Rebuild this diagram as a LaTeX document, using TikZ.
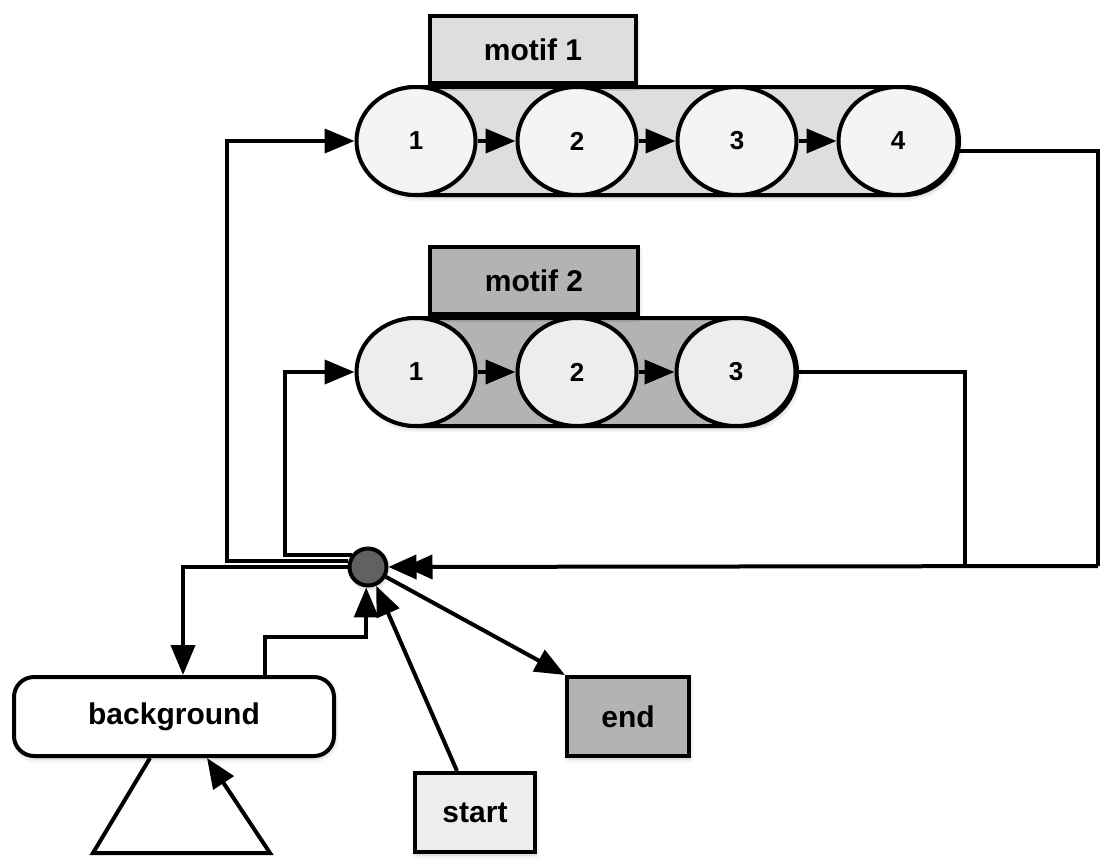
\documentclass[tikz,border=0pt]{standalone}
\usepackage{fontspec}
\setmainfont{Liberation Sans}
\usetikzlibrary{arrows.meta,shapes.geometric,calc,shadows.blur}
\definecolor{paleA}{HTML}{F4F4F4}
\definecolor{paleB}{HTML}{EDEDED}
\definecolor{grayA}{HTML}{DEDEDE}
\definecolor{grayB}{HTML}{B3B3B3}
\definecolor{hubgray}{HTML}{616161}
\tikzset{
  soft/.style={blur shadow={shadow xshift=1pt, shadow yshift=-3pt, shadow blur radius=4pt, shadow opacity=22}},
  base/.style={draw=black, line width=4pt, font=\fontsize{30}{34}\selectfont\bfseries, inner sep=0pt},
  labelbox/.style={base, soft, rectangle, minimum width=206pt, minimum height=67pt},
  capsule/.style={base, soft, rectangle, rounded corners=54pt, minimum height=108pt},
  state/.style={base, ellipse, fill=paleA, minimum width=119pt, minimum height=108pt, font=\fontsize{26}{30}\selectfont\bfseries},
  termbox/.style={base, soft, rectangle, minimum height=79pt},
  conn/.style={line width=4pt, draw=black},
  arr/.style={conn, -{Triangle[length=30pt,width=24pt]}},
  dblarr/.style={conn, -{Triangle[length=28pt,width=24pt,sep=-12pt]Triangle[length=28pt,width=24pt]}},
}
\begin{document}
\begin{tikzpicture}[x=1pt,y=-1pt]
\useasboundingbox (0,0) rectangle (1101,860);

% motif 1
\node[capsule, fill=grayA, minimum width=598pt] (cap1) at (660,141) {};
\node[labelbox, fill=grayA] (lab1) at (533,49.5) {motif 1};
\node[state] (a1) at (416,141) {1};
\node[state] (a2) at (577,141) {2};
\node[state] (a3) at (737,141) {3};
\node[state] (a4) at (898,141) {4};

% motif 2
\node[capsule, fill=grayB, minimum width=436pt] (cap2) at (579,372) {};
\node[labelbox, fill=grayB, minimum width=208pt] (lab2) at (534,280.5) {motif 2};
\node[state, fill=paleB] (b1) at (416,372) {1};
\node[state, fill=paleB] (b2) at (577,372) {2};
\node[state, fill=paleB] (b3) at (736,372) {3};

% hub and terminals
\node[base, soft, circle, fill=hubgray, minimum size=37pt] (hub) at (368,567) {};
\node[base, soft, rectangle, rounded corners=20pt, fill=white, minimum width=320pt, minimum height=79pt] (bg) at (174,716.5) {background};
\node[termbox, fill=paleA!97!black, minimum width=120pt] (start) at (475,812.5) {start};
\node[termbox, fill=grayB, minimum width=122pt] (end) at (628,716.5) {end};

% joints on the return line
\coordinate (rj) at (1098,566);
\coordinate (mj) at (965,566);
\coordinate (st) at ($(start.north)+(-18,0)$);

% chains inside the motifs
\draw[arr] (a1) -- (a2);
\draw[arr] (a2) -- (a3);
\draw[arr] (a3) -- (a4);
\draw[arr] (b1) -- (b2);
\draw[arr] (b2) -- (b3);

% motif exits back to the hub
\draw[conn] (a4.-9) -| (rj);
\draw[conn] (b3.east) -| (mj);
\draw[dblarr] (rj) -- (hub);

% hub to motif entries
\draw[arr] (hub.163) -| ($(a1.west)+(-128,0)$) -- (a1.west);
\draw[arr] (hub.143) -| ($(b1.west)+(-70,0)$) -- (b1.west);

% hub and background
\draw[arr] (hub.west) -| (183,0 |- bg.north);
\draw[arr] (265,0 |- bg.north) -- (265,637) -| (hub.265);
\draw[arr] (150,0 |- bg.south) -- (93,853) -- (270,853) -- (207,0 |- bg.south);

% start and end
\draw[arr] (st) -- (hub);
\draw[arr] (hub) -- (end.north west);
\end{tikzpicture}
\end{document}
